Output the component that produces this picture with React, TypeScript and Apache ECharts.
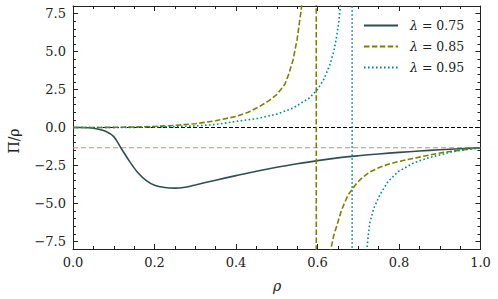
import React, { useEffect, useRef } from "react";
import * as echarts from "echarts";

// ---- data ----
const rho075 = [0, 0.02, 0.04, 0.06, 0.08, 0.1, 0.12, 0.14, 0.16, 0.18, 0.2, 0.225, 0.25, 0.275, 0.3, 0.35, 0.4, 0.45, 0.5, 0.55, 0.6, 0.65, 0.7, 0.75, 0.8, 0.85, 0.9, 0.95, 1.0];
const val075 = [0, 0, -0.02, -0.1, -0.25, -0.6, -1.45, -2.28, -3.0, -3.5, -3.8, -3.95, -3.99, -3.93, -3.78, -3.47, -3.17, -2.88, -2.62, -2.39, -2.18, -2.0, -1.86, -1.74, -1.64, -1.55, -1.47, -1.4, -1.333];

const rho085 = [0, 0.05, 0.1, 0.15, 0.2, 0.25, 0.3, 0.35, 0.4, 0.43, 0.46, 0.48, 0.5, 0.51, 0.52, 0.53, 0.54, 0.55, 0.56, 0.57, 0.58, 0.59, 0.5965,
  0.5975, 0.61, 0.62, 0.628, 0.634, 0.64, 0.647, 0.659, 0.675, 0.696, 0.71, 0.728, 0.75, 0.769, 0.79, 0.818, 0.85, 0.884, 0.91, 0.941, 0.97, 1.0];
const val085 = [0, 0, 0.01, 0.03, 0.07, 0.14, 0.25, 0.44, 0.73, 1.0, 1.42, 1.75, 2.17, 2.5, 2.85, 3.55, 4.45, 5.8, 7.75, 10.5, 16, 35, 400,
  -400, -40, -15, -10, -7.85, -7.1, -6.5, -5.43, -4.44, -3.67, -3.3, -2.94, -2.65, -2.46, -2.3, -2.13, -1.95, -1.76, -1.64, -1.52, -1.42, -1.333];

const rho095 = [0, 0.05, 0.1, 0.15, 0.2, 0.25, 0.3, 0.35, 0.4, 0.45, 0.5, 0.54, 0.58, 0.6, 0.615, 0.63, 0.64, 0.647, 0.652, 0.656, 0.665, 0.675, 0.6845,
  0.6855, 0.7, 0.712, 0.72, 0.723, 0.728, 0.738, 0.753, 0.773, 0.798, 0.835, 0.86, 0.884, 0.91, 0.933, 0.965, 1.0];
const val095 = [0, 0, 0, 0.01, 0.03, 0.06, 0.1, 0.2, 0.4, 0.58, 0.88, 1.28, 1.94, 2.5, 3.15, 4.1, 5.0, 6.0, 6.9, 7.98, 11, 18, 400,
  -400, -30, -12, -8.5, -7.5, -6.31, -5.32, -4.44, -3.56, -2.9, -2.35, -2.1, -1.91, -1.74, -1.58, -1.45, -1.333];

const refZero = 0;
const refLimit = -4 / 3;

const xTicks = [0, 0.2, 0.4, 0.6, 0.8, 1.0];
const yTicks = [-7.5, -5, -2.5, 0, 2.5, 5, 7.5];
const legendNames = ["0.75", "0.85", "0.95"];

const FONT = "'DejaVu Serif', serif";
const fmt = (v: number) => {
  const s = Number(v).toFixed(1);
  return s.replace("-", "\u2212");
};
const zip = (xs: number[], ys: number[]) => xs.map((x, i) => [x, ys[i]]);

export default function App() {
  const ref = useRef<HTMLDivElement>(null);
  useEffect(() => {
    if (!ref.current) return;
    const chart = echarts.init(ref.current, null, { renderer: "svg" });
    const axisColor = "#222";
    const grid = { left: 73, top: 6, width: 407.5, height: 243 };
    const baseX = {
      type: "value",
      min: 0,
      max: 1,
      interval: 0.2,
      axisLine: { show: true, onZero: false, lineStyle: { color: axisColor, width: 1 } },
      axisTick: { show: true, inside: true, length: 5, lineStyle: { color: axisColor } },
      minorTick: { show: true, splitNumber: 4, length: 3, lineStyle: { color: axisColor } },
      splitLine: { show: false },
      minorSplitLine: { show: false },
    };
    const yMajor = {
      type: "value",
      min: -8,
      max: 8,
      axisLine: { show: true, onZero: false, lineStyle: { color: axisColor, width: 1 } },
      axisTick: { show: true, inside: true, length: 5, customValues: yTicks, lineStyle: { color: axisColor } },
      splitLine: { show: false },
    };
    const yMinor = {
      type: "value",
      min: -8,
      max: 8,
      interval: 0.5,
      axisLine: { show: false, onZero: false },
      axisTick: { show: true, inside: true, length: 3, lineStyle: { color: axisColor } },
      axisLabel: { show: false },
      splitLine: { show: false },
    };
    const legendRich = {
      s: { width: 7 },
      i: { fontFamily: FONT, fontStyle: "italic", fontSize: 12.5, color: "#222" },
    };
    chart.setOption({
      animation: false,
      grid,
      legend: {
        orient: "vertical",
        left: 363,
        top: 19,
        padding: 0,
        itemWidth: 34,
        itemHeight: 14,
        itemGap: 8,
        itemStyle: { color: "rgba(0,0,0,0)", borderWidth: 0, opacity: 0 },
        data: legendNames.map((n) => "\u03bb" + n),
        formatter: (name: string) => "{s|}{i|\u03bb} = " + name.slice(1),
        textStyle: { fontFamily: FONT, fontSize: 12.5, color: "#222", rich: legendRich },
      },
      xAxis: [
        {
          ...baseX,
          position: "bottom",
          axisLabel: {
            show: true,
            margin: 7,
            fontFamily: FONT,
            fontSize: 13,
            color: "#222",
            customValues: xTicks,
            formatter: fmt,
          },
        },
        { ...baseX, position: "top", axisLabel: { show: false } },
      ],
      yAxis: [
        {
          ...yMajor,
          position: "left",
          axisLabel: {
            show: true,
            margin: 7,
            fontFamily: FONT,
            fontSize: 13,
            color: "#222",
            customValues: yTicks,
            formatter: fmt,
          },
        },
        { ...yMinor, position: "left" },
        { ...yMajor, position: "right", axisLabel: { show: false } },
        { ...yMinor, position: "right" },
      ],
      series: [
        {
          name: "zero",
          type: "line",
          data: [[0, refZero], [1, refZero]],
          showSymbol: false,
          symbol: "none",
          lineStyle: { color: "#000", width: 1, type: [4, 2] },
          silent: true,
          z: 1,
        },
        {
          name: "limit",
          type: "line",
          data: [[0, refLimit], [1, refLimit]],
          showSymbol: false,
          symbol: "none",
          lineStyle: { color: "#E67F7F", width: 1.2, type: [5, 3] },
          silent: true,
          z: 1,
        },
        {
          name: "\u03bb0.75",
          type: "line",
          data: zip(rho075, val075),
          showSymbol: false,
          symbol: "none",
          smooth: 0.35,
          clip: true,
          lineStyle: { color: "#2F4F4F", width: 1.6 },
          itemStyle: { color: "#2F4F4F" },
          z: 3,
        },
        {
          name: "\u03bb0.85",
          type: "line",
          data: zip(rho085, val085),
          showSymbol: false,
          symbol: "none",
          clip: true,
          lineStyle: { color: "#808000", width: 1.6, type: [5.5, 2.4] },
          itemStyle: { color: "#808000" },
          z: 3,
        },
        {
          name: "\u03bb0.95",
          type: "line",
          data: zip(rho095, val095),
          showSymbol: false,
          symbol: "none",
          clip: true,
          lineStyle: { color: "#008B8B", width: 1.6, type: [1.6, 2.4] },
          itemStyle: { color: "#008B8B" },
          z: 3,
        },
      ],
      graphic: [
        {
          type: "text",
          x: 14,
          y: 141,
          rotation: Math.PI / 2,
          style: {
            text: "\u03a0/\u03c1",
            fontFamily: FONT,
            fontSize: 14,
            fill: "#222",
            align: "center",
            verticalAlign: "middle",
          },
        },
        {
          type: "text",
          x: 277,
          y: 286,
          style: {
            text: "\u03c1",
            fontFamily: FONT,
            fontStyle: "italic",
            fontSize: 14,
            fill: "#222",
            align: "center",
            verticalAlign: "middle",
          },
        },
      ],
    });
    return () => chart.dispose();
  }, []);
  return <div ref={ref} style={{ width: 498, height: 299, position: "absolute", left: 0, top: 0 }} />;
}
